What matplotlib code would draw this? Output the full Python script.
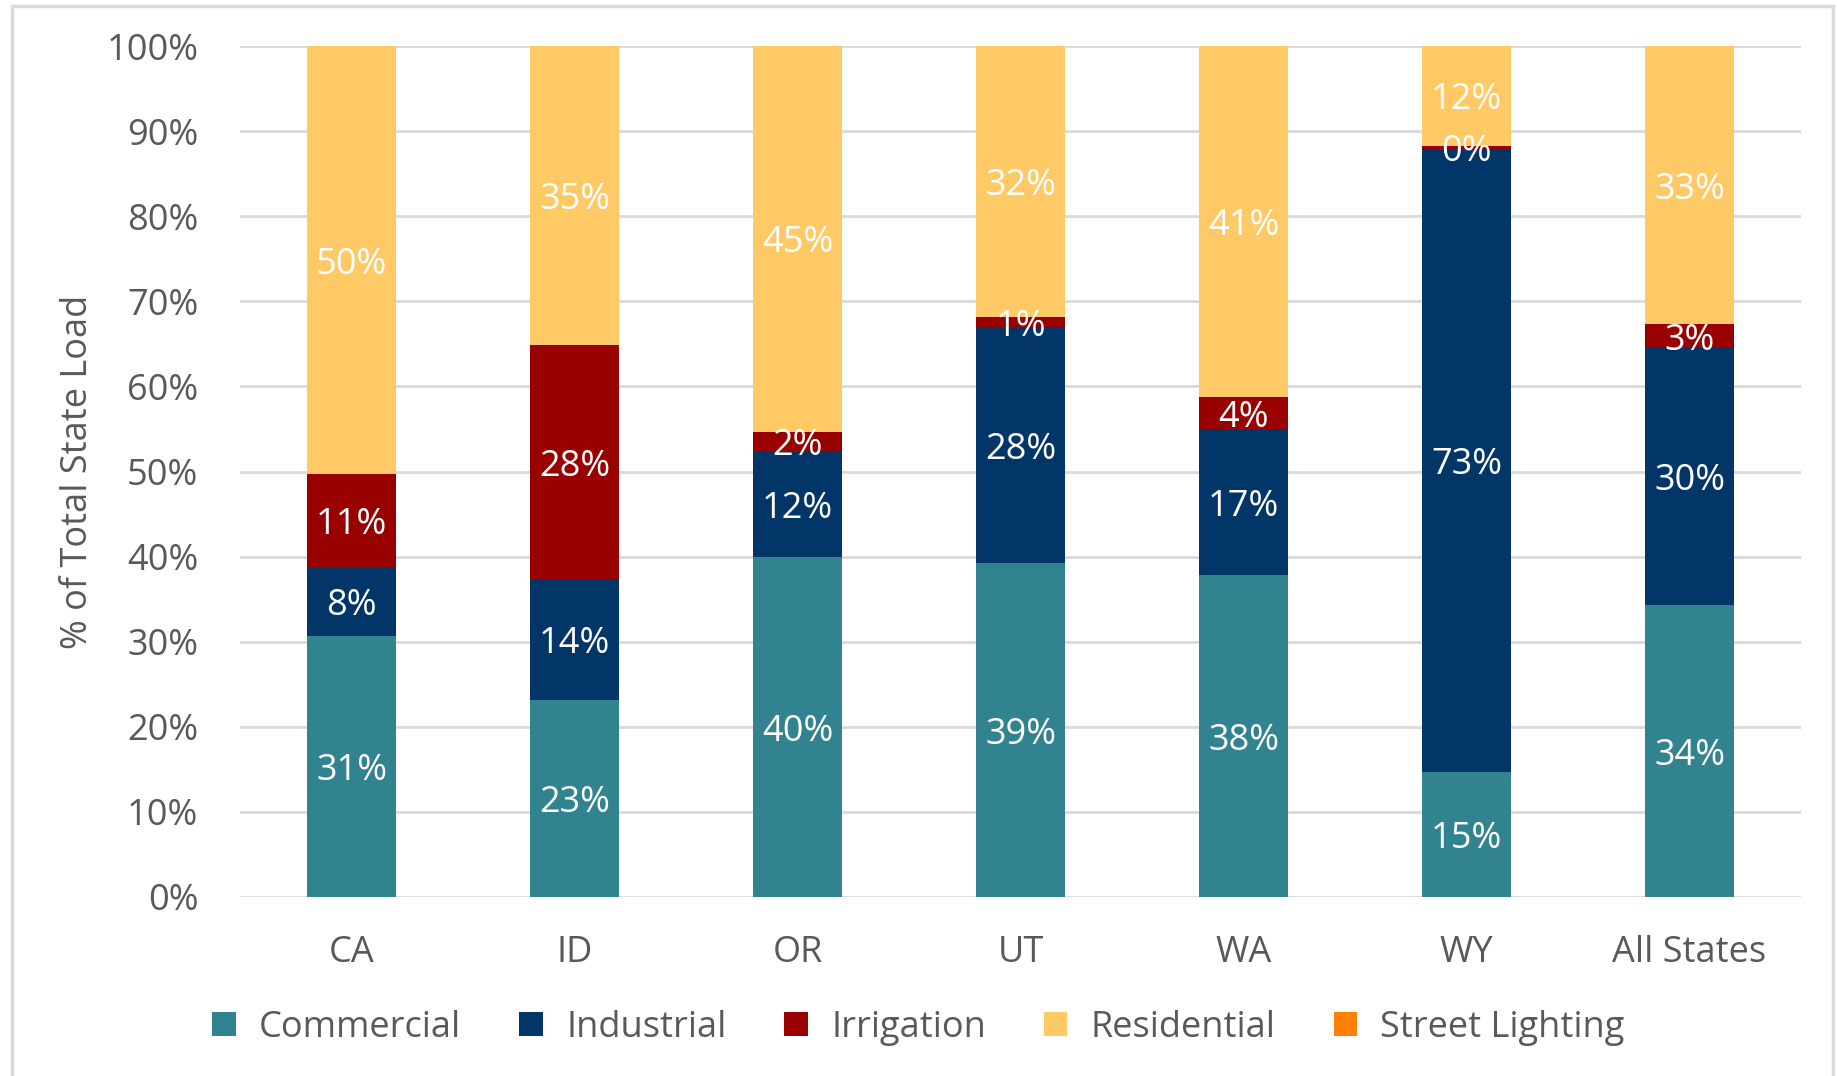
import numpy as np
import matplotlib.pyplot as plt
from matplotlib.patches import Rectangle

plt.rcParams['font.family'] = ['Open Sans', 'DejaVu Sans']

states = ['CA', 'ID', 'OR', 'UT', 'WA', 'WY', 'All States']

# share of total state load, percent
commercial = [30.7, 23.2, 39.9, 39.2, 37.8, 14.7, 34.3]
industrial = [8.0, 14.1, 12.4, 27.8, 17.1, 73.2, 30.2]
irrigation = [11.0, 27.6, 2.4, 1.1, 3.8, 0.4, 2.8]
residential = [50.3, 35.1, 45.3, 31.9, 41.3, 11.7, 32.7]
street_lighting = [0.0, 0.0, 0.0, 0.0, 0.0, 0.0, 0.0]

series = [
    ('Commercial', commercial, '#31838F', True),
    ('Industrial', industrial, '#023669', True),
    ('Irrigation', irrigation, '#990000', True),
    ('Residential', residential, '#FFC966', True),
    ('Street Lighting', street_lighting, '#FF8000', False),
]

FS = 26

fig = plt.figure(figsize=(18.37, 10.76), dpi=100)
ax = fig.add_axes([240 / 1837, 1 - 897 / 1076, 1561 / 1837, 851 / 1076])

# light frame around the whole chart
fig.patches.append(Rectangle((12 / 1837, -0.01), 1821 / 1837, 1 - 6 / 1076 + 0.01,
                             transform=fig.transFigure, fill=False,
                             edgecolor='#D9D9D9', linewidth=2.5))

x = np.arange(len(states))
bottom = np.zeros(len(states))
for name, vals, color, show in series:
    vals = np.array(vals)
    ax.bar(x, vals, 0.395, bottom=bottom, color=color, label=name, zorder=2)
    if show:
        for xi, b, v in zip(x, bottom, vals):
            ax.text(xi, b + v / 2, f'{v:.0f}%', ha='center', va='center_baseline',
                    color='white', fontsize=FS, zorder=3)
    bottom += vals

ax.set_xlim(-0.5, len(states) - 0.5)
ax.set_ylim(0, 100)
ax.set_yticks(np.arange(0, 101, 10))
ax.set_yticklabels([f'{t}%' for t in range(0, 101, 10)])
ax.set_xticks(x)
ax.set_xticklabels(states)
ax.tick_params(axis='both', length=0, labelsize=FS, labelcolor='#595959')
ax.tick_params(axis='y', pad=30)
ax.tick_params(axis='x', pad=27)
ax.grid(axis='y', color='#D9D9D9', linewidth=2, zorder=0)
ax.set_axisbelow(True)
for s in ax.spines.values():
    s.set_visible(False)

ax.set_ylabel('% of Total State Load', fontsize=FS, color='#595959')
ax.yaxis.set_label_coords(-144 / 1561, 0.5)

# legend is centred on the figure rather than the plot area
fig.legend(*ax.get_legend_handles_labels(), loc='center',
           bbox_to_anchor=(0.5, 1 - 1028 / 1076), ncol=5,
           frameon=False, fontsize=FS, labelcolor='#595959',
           handlelength=0.65, handleheight=0.65, handletextpad=0.65,
           columnspacing=1.6)

fig.savefig('out.png', dpi=100)
